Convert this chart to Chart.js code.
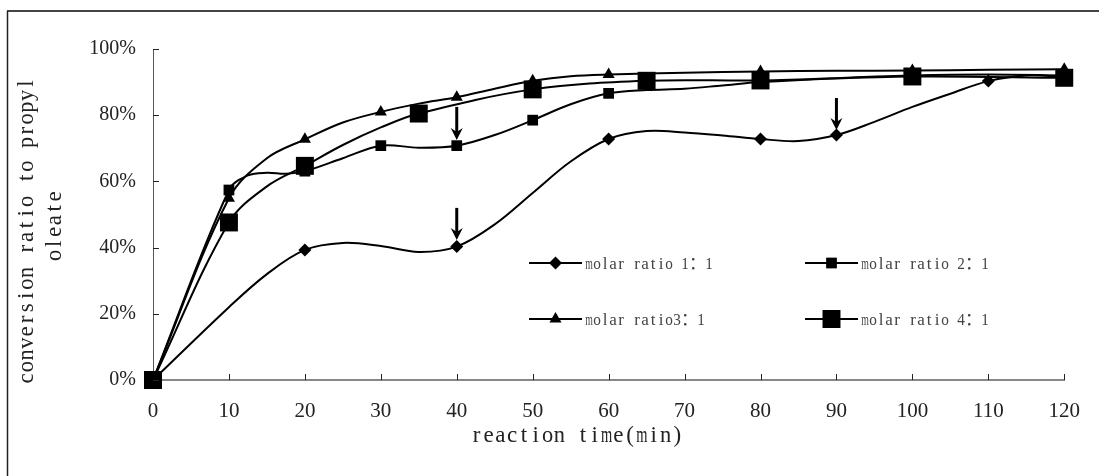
<!DOCTYPE html>
<html>
<head>
<meta charset="utf-8">
<script src="https://cdn.jsdelivr.net/npm/chart.js@4.4.0/dist/chart.umd.min.js"></script>
<style>
  html, body { margin: 0; padding: 0; background: #fff; }
  #wrap { width: 1099px; height: 476px; }
</style>
</head>
<body>
<div id="wrap"><canvas id="conversionChart" width="1099" height="476"></canvas></div>
<script>
// reaction time (min) and conversion (%)
const seriesLabels = ['molar ratio 1：1', 'molar ratio 2：1', 'molar ratio3：1', 'molar ratio 4：1'];

const times1 = [0, 10, 15, 20, 25, 30, 35, 40, 45, 50, 55, 60, 65, 70, 75, 80, 85, 90, 95, 100, 105, 110, 115, 120];
const ratio1 = [0, 22, 32, 39.3, 41.4, 40.5, 38.7, 40.3, 47, 56.5, 66, 72.8, 75.2, 74.8, 73.9, 72.8, 72.2, 74, 78, 82.5, 86.5, 90.3, 92, 91.5];
const marks1 = [0, 20, 40, 60, 80, 90, 110, 120];

const times2 = [0, 10, 12.5, 15, 17.5, 20, 25, 30, 35, 40, 45, 50, 55, 60, 65, 70, 75, 80, 90, 100, 110, 120];
const ratio2 = [0, 57.4, 61.8, 62.6, 62.3, 63.1, 67, 70.8, 70.2, 70.8, 74, 78.5, 83.3, 86.6, 87.6, 88, 89, 90, 91.2, 92, 92.3, 92];
const marks2 = [0, 10, 20, 30, 40, 50, 60, 80, 100, 120];

const times3 = [0, 10, 15, 20, 25, 30, 35, 40, 45, 50, 55, 60, 70, 80, 90, 100, 110, 120];
const ratio3 = [0, 54.9, 67, 72.7, 77.8, 81, 83.5, 85.4, 88, 90.4, 91.8, 92.3, 92.8, 93.2, 93.4, 93.5, 93.7, 93.9];
const marks3 = [0, 10, 20, 30, 40, 50, 60, 80, 100, 120];

const times4 = [0, 10, 15, 20, 25, 30, 35, 50, 65, 80, 100, 120];
const ratio4 = [0, 47.6, 58.5, 64.7, 71, 76.3, 80.5, 87.8, 90.4, 90.5, 91.7, 91.3];
const marks4 = [0, 10, 20, 35, 50, 65, 80, 100, 120];

// arrows marking the additions: time, arrow top (%), arrow tip (%)
const arrowTimes = [40, 40, 90];
const arrowTops = [82.5, 52, 85.2];
const arrowTips = [72.5, 42.3, 75.5];

const xTicks = [0, 10, 20, 30, 40, 50, 60, 70, 80, 90, 100, 110, 120];
const yTicks = [0, 20, 40, 60, 80, 100];

const pointStyles = ['rectRot', 'rect', 'triangle', 'rect'];
const pointSizes = [6.5, 7.6, 7, 12.7];

const SERIF = '"Liberation Serif", "Times New Roman", serif';

function buildSet(i, times, values, marks) {
    return {
        label: seriesLabels[i],
        data: times.map((t, k) => ({ x: t, y: values[k] })),
        borderColor: '#000',
        backgroundColor: '#000',
        borderWidth: 2,
        tension: 0.35,
        clip: false,
        pointStyle: pointStyles[i],
        pointRadius: times.map(t => marks.includes(t) ? pointSizes[i] : 0),
        pointHoverRadius: 0,
        pointBorderWidth: 0,
        order: 3 - i
    };
}

function drawMarker(ctx, style, r, x, y) {
    ctx.beginPath();
    if (style === 'rectRot') {
        ctx.moveTo(x, y - r); ctx.lineTo(x + r, y); ctx.lineTo(x, y + r); ctx.lineTo(x - r, y);
    } else if (style === 'triangle') {
        ctx.moveTo(x, y - r);
        ctx.lineTo(x + r * Math.sin(Math.PI / 3), y + r / 2);
        ctx.lineTo(x - r * Math.sin(Math.PI / 3), y + r / 2);
    } else {
        const s = r * Math.SQRT1_2;
        ctx.rect(x - s, y - s, 2 * s, 2 * s);
    }
    ctx.closePath();
    ctx.fill();
}

// fixed-pitch serif text (the figure uses a half-width CJK font for latin text)
function drawPitched(ctx, text, x, y, pitch, size, align) {
    const chars = Array.from(text);
    const cells = chars.map(c => c.charCodeAt(0) > 0xff ? 2 : 1);
    const total = cells.reduce((a, b) => a + b, 0) * pitch;
    let cx = align === 'center' ? x - total / 2 : x;
    chars.forEach((c, k) => {
        const cw = cells[k] * pitch;
        if (c !== ' ') {
            ctx.save();
            if (cells[k] === 2) {
                ctx.font = size + 'px "Noto Sans CJK SC", sans-serif';
                ctx.textAlign = 'left';
                ctx.fillText(c, cx, y);
            } else {
                ctx.font = size + 'px ' + SERIF;
                const w = ctx.measureText(c).width;
                const s = Math.min(1, 0.95 * cw / w);
                ctx.translate(cx + cw / 2, y);
                ctx.scale(s, 1);
                ctx.textAlign = 'center';
                ctx.fillText(c, 0, 0);
            }
            ctx.restore();
        }
        cx += cw;
    });
}

const decorPlugin = {
    id: 'decor',
    beforeDraw(chart) {
        const ctx = chart.ctx;
        ctx.save();
        ctx.fillStyle = '#fff';
        ctx.fillRect(0, 0, chart.width, chart.height);
        ctx.strokeStyle = '#444';
        ctx.lineWidth = 2;
        ctx.beginPath(); ctx.moveTo(7, 11); ctx.lineTo(chart.width, 11); ctx.stroke();
        ctx.strokeStyle = '#222';
        ctx.lineWidth = 1.5;
        ctx.beginPath(); ctx.moveTo(7.5, 11); ctx.lineTo(7.5, chart.height); ctx.stroke();
        ctx.restore();
    },
    afterDraw(chart) {
        const ctx = chart.ctx;
        const xs = chart.scales.x, ys = chart.scales.y;
        const area = chart.chartArea;
        ctx.save();

        // inward tick marks
        ctx.strokeStyle = '#222';
        ctx.lineWidth = 1;
        xTicks.forEach(v => {
            if (v === 0) return;
            const px = Math.round(xs.getPixelForValue(v)) + 0.5;
            ctx.beginPath(); ctx.moveTo(px, area.bottom); ctx.lineTo(px, area.bottom - 6); ctx.stroke();
        });
        yTicks.forEach(v => {
            const py = Math.round(ys.getPixelForValue(v)) + 0.5;
            ctx.beginPath(); ctx.moveTo(area.left, py); ctx.lineTo(area.left + 6, py); ctx.stroke();
        });

        // axis titles
        ctx.fillStyle = '#222';
        ctx.textBaseline = 'alphabetic';
        drawPitched(ctx, 'reaction time(min)', 577, 442, 11.8, 23, 'center');
        ctx.save();
        ctx.translate(33, 231);
        ctx.rotate(-Math.PI / 2);
        drawPitched(ctx, 'conversion ratio to propyl', 0, 0, 11.8, 23, 'center');
        ctx.restore();
        ctx.save();
        ctx.translate(61, 226);
        ctx.rotate(-Math.PI / 2);
        drawPitched(ctx, 'oleate', 0, 0, 11.8, 23, 'center');
        ctx.restore();

        // arrows
        ctx.strokeStyle = '#000';
        ctx.fillStyle = '#000';
        arrowTimes.forEach((t, i) => {
            const ax = xs.getPixelForValue(t);
            const top = ys.getPixelForValue(arrowTops[i]);
            const tip = ys.getPixelForValue(arrowTips[i]);
            ctx.lineWidth = 3;
            ctx.beginPath(); ctx.moveTo(ax, top); ctx.lineTo(ax, tip - 7); ctx.stroke();
            ctx.beginPath();
            ctx.moveTo(ax, tip);
            ctx.lineTo(ax - 6, tip - 12);
            ctx.lineTo(ax, tip - 8);
            ctx.lineTo(ax + 6, tip - 12);
            ctx.closePath();
            ctx.fill();
        });

        // legend inside the plot
        const cols = [529, 805];
        const rows = [263, 319];
        [0, 1, 2, 3].forEach(i => {
            const lx = cols[i % 2], ly = rows[Math.floor(i / 2)];
            ctx.strokeStyle = '#000';
            ctx.lineWidth = 2;
            ctx.beginPath(); ctx.moveTo(lx, ly); ctx.lineTo(lx + 53, ly); ctx.stroke();
            ctx.fillStyle = '#000';
            drawMarker(ctx, pointStyles[i], pointSizes[i], lx + 26.5, ly);
            ctx.fillStyle = '#444';
            drawPitched(ctx, seriesLabels[i], lx + 56, ly + 6, 8, 17, 'left');
        });
        ctx.restore();
    }
};

const chart = new Chart(document.getElementById('conversionChart').getContext('2d'), {
    type: 'line',
    data: {
        datasets: [
            buildSet(0, times1, ratio1, marks1),
            buildSet(1, times2, ratio2, marks2),
            buildSet(2, times3, ratio3, marks3),
            buildSet(3, times4, ratio4, marks4)
        ]
    },
    options: {
        responsive: false,
        animation: false,
        layout: { padding: { left: 0, right: 34, top: 49, bottom: 0 } },
        plugins: {
            legend: { display: false },
            tooltip: { enabled: false },
            title: { display: false }
        },
        scales: {
            x: {
                type: 'linear',
                min: 0,
                max: 120,
                afterFit: scale => { scale.height = 96; },
                afterBuildTicks: scale => { scale.ticks = xTicks.map(v => ({ value: v })); },
                ticks: {
                    color: '#222',
                    padding: 19,
                    maxRotation: 0,
                    font: { family: SERIF, size: 21 }
                },
                grid: { display: false, drawTicks: false },
                border: { display: true, color: '#888', width: 2 }
            },
            y: {
                min: 0,
                max: 100,
                afterFit: scale => { scale.width = 153; },
                afterBuildTicks: scale => { scale.ticks = yTicks.map(v => ({ value: v })); },
                ticks: {
                    color: '#222',
                    padding: 17,
                    callback: v => v + '%',
                    font: { family: SERIF, size: 20 }
                },
                grid: { display: false, drawTicks: false },
                border: { display: true, color: '#555', width: 1 }
            }
        }
    },
    plugins: [decorPlugin]
});
</script>
</body>
</html>
